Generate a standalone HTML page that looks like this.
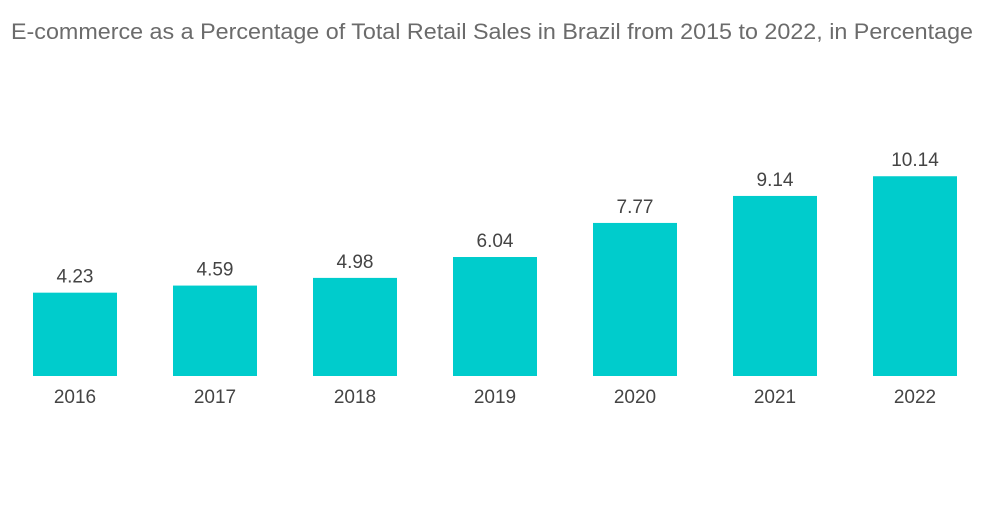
<!DOCTYPE html>
<html><head><meta charset="utf-8"><style>
body{margin:0;background:#fff;width:1000px;height:504px;overflow:hidden;font-family:"Liberation Sans",sans-serif}
</style></head><body>
<svg width="1000" height="504">
<text x="492" y="39" text-anchor="middle" font-size="22.5" fill="#6b6b6b" textLength="962" lengthAdjust="spacingAndGlyphs">E-commerce as a Percentage of Total Retail Sales in Brazil from 2015 to 2022, in Percentage</text>
<g id="bars"></g>
</svg>
<script>
const categories=["2016","2017","2018","2019","2020","2021","2022"];
const values=[4.23,4.59,4.98,6.04,7.77,9.14,10.14];
const baseY=376, pxPerUnit=19.7, x0=33, pitch=140, bw=84;
const xScale=i=>x0+i*pitch;
const yScale=v=>baseY-v*pxPerUnit;
const g=document.getElementById('bars');
const ns="http://www.w3.org/2000/svg";
categories.forEach((c,i)=>{
  const r=document.createElementNS(ns,'rect');
  
  
  r.setAttribute('x',xScale(i));r.setAttribute('y',yScale(values[i]));
  r.setAttribute('width',bw);r.setAttribute('height',baseY-yScale(values[i]));
  r.setAttribute('fill','#00cccc');g.appendChild(r);
  const t=document.createElementNS(ns,'text');
  
  
  t.setAttribute('x',xScale(i)+bw/2);t.setAttribute('y',yScale(values[i])-10);
  t.setAttribute('text-anchor','middle');t.setAttribute('font-size','19');t.setAttribute('fill','#444');
  t.textContent=values[i].toFixed(2);g.appendChild(t);
  const l=document.createElementNS(ns,'text');
  
  
  l.setAttribute('x',xScale(i)+bw/2);l.setAttribute('y',403);
  l.setAttribute('text-anchor','middle');l.setAttribute('font-size','19');l.setAttribute('fill','#444');
  l.textContent=c;g.appendChild(l);
});
</script>
</body></html>
